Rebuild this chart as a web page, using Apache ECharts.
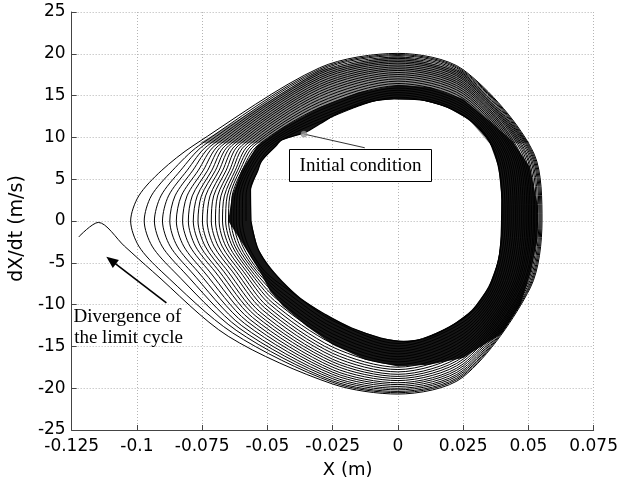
<!DOCTYPE html>
<html><head><meta charset="utf-8">
<script src="https://cdn.jsdelivr.net/npm/echarts@6.0.0/dist/echarts.min.js"></script>
<style>html,body{margin:0;padding:0;background:#fff}#c{width:621px;height:484px}</style>
</head><body><div id="c"></div>
<script>
// ---- tick labels ----
const xTickLabels = ['-0.125','-0.1','-0.075','-0.05','-0.025','0','0.025','0.05','0.075'];
const yTickLabels = ['-25','-20','-15','-10','-5','0','5','10','15','20','25'];

// ---- trajectory loops read at fixed stations (loop 0 = innermost, loop 23 = outermost) ----
// left nose, y = 0 : x
const noseX = [-0.0582,-0.0596,-0.0608,-0.0619,-0.0629,-0.0639,-0.0649,-0.0660,-0.0672,-0.0685,-0.0699,-0.0715,-0.0731,-0.0749,-0.0766,-0.0784,-0.0803,-0.0825,-0.0849,-0.0874,-0.0902,-0.0933,-0.0972,-0.1024];
// left, y = 3 : x
const up3X = [-0.0582,-0.0595,-0.0606,-0.0616,-0.0625,-0.0635,-0.0644,-0.0654,-0.0665,-0.0678,-0.0691,-0.0706,-0.0720,-0.0737,-0.0753,-0.0769,-0.0788,-0.0808,-0.0830,-0.0854,-0.0879,-0.0908,-0.0945,-0.0993];
// left, y = 6 : x
const up6X = [-0.0552,-0.0564,-0.0573,-0.0582,-0.0590,-0.0598,-0.0606,-0.0615,-0.0624,-0.0635,-0.0646,-0.0659,-0.0672,-0.0686,-0.0700,-0.0714,-0.0730,-0.0747,-0.0766,-0.0787,-0.0809,-0.0834,-0.0865,-0.0907];
// upper left, y = 9 : x
const up9X = [-0.0480,-0.0493,-0.0505,-0.0516,-0.0528,-0.0539,-0.0551,-0.0562,-0.0574,-0.0587,-0.0599,-0.0612,-0.0624,-0.0637,-0.0649,-0.0662,-0.0675,-0.0688,-0.0702,-0.0716,-0.0730,-0.0746,-0.0763,-0.0785];
// top, x = -0.03 : y
const topLY = [11.87,12.21,12.54,12.88,13.22,13.55,13.89,14.22,14.56,14.90,15.20,15.50,15.81,16.08,16.34,16.61,16.88,17.12,17.35,17.59,17.79,17.99,18.16,18.33];
// top, x = 0 : y
const topY = [14.82,15.09,15.36,15.64,15.91,16.18,16.45,16.73,17.00,17.27,17.52,17.76,18.01,18.22,18.44,18.66,18.88,19.07,19.26,19.45,19.61,19.78,19.91,20.05];
// top, x = 0.025 : y
const topRY = [12.72,13.00,13.28,13.56,13.84,14.12,14.40,14.68,14.96,15.24,15.50,15.75,16.00,16.22,16.45,16.67,16.90,17.09,17.29,17.48,17.65,17.82,17.96,18.10];
// right, y = 8 : x
const r8X = [0.0374,0.0382,0.0390,0.0397,0.0405,0.0413,0.0420,0.0428,0.0436,0.0443,0.0450,0.0457,0.0464,0.0470,0.0477,0.0483,0.0489,0.0494,0.0500,0.0505,0.0510,0.0514,0.0518,0.0522];
// right, y = 0 : x
const r0X = [0.0403,0.0411,0.0419,0.0426,0.0434,0.0442,0.0450,0.0457,0.0465,0.0473,0.0480,0.0487,0.0494,0.0500,0.0506,0.0512,0.0519,0.0524,0.0530,0.0535,0.0540,0.0544,0.0548,0.0552];
// right, y = -8 : x
const rm8X = [0.0353,0.0361,0.0369,0.0377,0.0385,0.0393,0.0401,0.0409,0.0417,0.0425,0.0433,0.0440,0.0447,0.0453,0.0460,0.0466,0.0473,0.0478,0.0484,0.0489,0.0494,0.0499,0.0503,0.0507];
// bottom, x = 0.025 : y
const botRY = [-11.74,-12.10,-12.46,-12.82,-13.18,-13.54,-13.90,-14.26,-14.62,-14.98,-15.30,-15.63,-15.95,-16.24,-16.53,-16.81,-17.10,-17.35,-17.61,-17.86,-18.07,-18.29,-18.47,-18.65];
// bottom, x = 0 : y
const botY = [-14.65,-14.97,-15.28,-15.60,-15.91,-16.23,-16.54,-16.86,-17.17,-17.49,-17.77,-18.05,-18.34,-18.59,-18.84,-19.09,-19.35,-19.57,-19.79,-20.01,-20.20,-20.39,-20.54,-20.70];
// bottom, x = -0.025 : y
const botLY = [-11.92,-12.31,-12.71,-13.10,-13.50,-13.89,-14.29,-14.68,-15.08,-15.47,-15.83,-16.18,-16.54,-16.85,-17.17,-17.49,-17.80,-18.08,-18.35,-18.63,-18.87,-19.11,-19.30,-19.50];
// lower-left diagonal crossing : x and y
const diagX = [-0.0420,-0.0429,-0.0439,-0.0447,-0.0456,-0.0465,-0.0473,-0.0482,-0.0491,-0.0501,-0.0510,-0.0519,-0.0529,-0.0538,-0.0547,-0.0557,-0.0567,-0.0577,-0.0587,-0.0598,-0.0609,-0.0620,-0.0633,-0.0650];
const diagY = [-8.23,-8.47,-8.69,-8.90,-9.11,-9.32,-9.53,-9.74,-9.96,-10.19,-10.40,-10.63,-10.86,-11.09,-11.31,-11.54,-11.78,-12.02,-12.27,-12.53,-12.79,-13.07,-13.39,-13.79];
// left, y = -6 : x (leading into the next nose)
const dn6X = [-0.0511,-0.0522,-0.0532,-0.0541,-0.0550,-0.0560,-0.0570,-0.0581,-0.0593,-0.0606,-0.0621,-0.0635,-0.0652,-0.0668,-0.0685,-0.0702,-0.0723,-0.0745,-0.0768,-0.0794,-0.0823,-0.0859,-0.0907,-0.0941];
// left, y = -3 : x
const dn3X = [-0.0573,-0.0584,-0.0595,-0.0605,-0.0615,-0.0625,-0.0635,-0.0647,-0.0660,-0.0674,-0.0689,-0.0705,-0.0723,-0.0739,-0.0757,-0.0776,-0.0797,-0.0821,-0.0846,-0.0873,-0.0904,-0.0942,-0.0993,-0.1048];
// divergent end of the trajectory
const tailX = [-0.1148,-0.1223];
const tailY = [-0.17,-1.90];

// inner hole of the limit cycle (clockwise)
const holeX = [-0.0563,-0.0565,-0.0537,-0.0522,-0.0467,-0.0445,-0.0355,-0.0300,-0.0228,-0.0101,-0.0015,0.0086,0.0183,0.0273,0.0348,0.0385,0.0398,0.0396,0.0385,0.0348,0.0284,0.0197,0.0097,0.0022,-0.0065,-0.0177,-0.0277,-0.0376,-0.0445,-0.0500,-0.0538];
const holeY = [0,3.7,6.0,7.2,9.0,9.7,10.6,11.6,12.9,14.3,14.6,14.5,13.7,12.1,9.7,6.5,2.5,-1.5,-4.7,-7.9,-10.7,-12.7,-14.1,-14.4,-14.0,-12.8,-11.2,-9.2,-7.2,-5.2,-3.2];
// outer edge of the dense (solid dark) part of the band (clockwise)
const denseX = [-0.0650,-0.0636,-0.0600,-0.0540,-0.0440,-0.0300,-0.0150,0.0000,0.0125,0.0250,0.0350,0.0440,0.0505,0.0535,0.0535,0.0510,0.0470,0.0400,0.0250,0.0120,0.0000,-0.0125,-0.0250,-0.0350,-0.0440,-0.0490,-0.0530,-0.0590];
const denseY = [0,3,6,9,11.2,13.6,15.4,16.3,16.0,14.6,12.0,9.5,6.5,2,-2,-6,-10,-13.4,-16.4,-17.2,-17.4,-16.6,-14.8,-12.6,-10.2,-8.4,-6,-3];
// grey textured upper part of the band (above y = 9.3)
const hazeX = [-0.0760,-0.0300,0.0000,0.0250,0.0505,0.0350,0.0273,0.0183,0.0086,-0.0015,-0.0101,-0.0228,-0.0300,-0.0355,-0.0445,-0.0470];
const hazeY = [9.3,18.1,19.85,17.9,9.3,9.3,12.1,13.7,14.5,14.6,14.3,12.9,11.6,10.6,9.7,9.3];

// annotations
const initPoint = [-0.036, 10.4];
const initLeaderEnd = [-0.0127, 8.76];
const arrowTail = [-0.0887, -9.8];
const arrowTip = [-0.1099, -4.7];

// ---- build the trajectory from the station readings ----
const spiral = [];
for (let k = 0; k < noseX.length; k++) {
  spiral.push(
    [noseX[k], 0], [up3X[k], 3], [up6X[k], 6], [up9X[k], 9],
    [-0.03, topLY[k]], [0, topY[k]], [0.025, topRY[k]],
    [r8X[k], 8], [r0X[k], 0], [rm8X[k], -8],
    [0.025, botRY[k]], [0, botY[k]], [-0.025, botLY[k]],
    [diagX[k], diagY[k]], [dn6X[k], -6], [dn3X[k], -3]
  );
}
for (let i = 0; i < tailX.length; i++) spiral.push([tailX[i], tailY[i]]);

const holePts = holeX.map((x, i) => [x, holeY[i]]);
const densePts = denseX.map((x, i) => [x, denseY[i]]);
const hazePts = hazeX.map((x, i) => [x, hazeY[i]]);

const chart = echarts.init(document.getElementById('c'), null, {renderer: 'canvas'});
const axisFont = 'DejaVu Sans';
chart.setOption({
  animation: false,
  backgroundColor: '#fff',
  grid: {left: 60, right: 26, top: 12, bottom: 53, containLabel: false},
  xAxis: {
    type: 'value', min: -0.125, max: 0.075, interval: 0.025,
    axisLine: {show: true, onZero: false, lineStyle: {color: '#444', width: 1}},
    axisTick: {show: true, inside: true, length: 5, lineStyle: {color: '#444'}},
    axisLabel: {color: '#000', fontFamily: axisFont, fontSize: 17, margin: 8, showMinLabel: true, showMaxLabel: true,
      formatter: v => xTickLabels[Math.round((v + 0.125) / 0.025)]},
    splitLine: {show: true, lineStyle: {color: '#b4b4b4', type: [1, 2], width: 1}},
    name: 'X (m)', nameLocation: 'middle', nameGap: 31,
    nameTextStyle: {color: '#000', fontFamily: axisFont, fontSize: 18, padding: [0, 0, 0, 30]}
  },
  yAxis: {
    type: 'value', min: -25, max: 25, interval: 5,
    axisLine: {show: true, onZero: false, lineStyle: {color: '#444', width: 1}},
    axisTick: {show: true, inside: true, length: 5, lineStyle: {color: '#444'}},
    axisLabel: {color: '#000', fontFamily: axisFont, fontSize: 17, margin: 6, showMinLabel: true, showMaxLabel: true,
      formatter: v => yTickLabels[Math.round((v + 25) / 5)]},
    splitLine: {show: true, lineStyle: {color: '#b4b4b4', type: [1, 2], width: 1}},
    name: 'dX/dt (m/s)', nameLocation: 'middle', nameGap: 40, nameRotate: 90,
    nameTextStyle: {color: '#000', fontFamily: axisFont, fontSize: 19, padding: [0, 15, 0, 0]}
  },
  series: [
    {
      type: 'custom', coordinateSystem: 'cartesian2d', z: 1, silent: true, data: [[0, 0]],
      renderItem: (params, api) => ({
        type: 'polygon', shape: {points: hazePts.map(p => api.coord(p))}, style: {fill: '#8c8c8c'}
      })
    },
    {
      type: 'custom', coordinateSystem: 'cartesian2d', z: 2, silent: true, data: [[0, 0]],
      renderItem: (params, api) => {
        const outer = densePts.map(p => api.coord(p));
        const hole = holePts.map(p => api.coord(p));
        const pts = outer.concat([outer[0], hole[0]]).concat(hole.slice(1).reverse()).concat([hole[0]]);
        return {type: 'polygon', shape: {points: pts}, style: {fill: '#161616'}};
      }
    },
    {
      type: 'line', z: 3, silent: true, data: holePts.concat([holePts[0]]), smooth: 0.4, symbol: 'none',
      lineStyle: {color: '#000', width: 1.3}
    },
    {
      type: 'line', z: 4, silent: true, data: spiral, smooth: 0.3, symbol: 'none',
      lineStyle: {color: '#000', width: 1}
    },
    {
      type: 'scatter', z: 5, silent: true, data: [initPoint], symbolSize: 6,
      itemStyle: {color: '#9a9a9a', borderColor: '#777', borderWidth: 0.5},
      markLine: {
        silent: true, animation: false, label: {show: false},
        lineStyle: {color: '#000', width: 1.2, type: 'solid'},
        emphasis: {disabled: true},
        data: [
          [{coord: initPoint, symbol: 'none'}, {coord: initLeaderEnd, symbol: 'none', lineStyle: {color: '#333', width: 1, type: 'solid'}}],
          [{coord: arrowTail, symbol: 'none'}, {coord: arrowTip, symbol: 'triangle', symbolSize: [10, 12], lineStyle: {color: '#000', width: 1.6, type: 'solid'}}]
        ]
      }
    }
  ],
  graphic: [
    {type: 'rect', z: 100, shape: {x: 289.5, y: 149.5, width: 142, height: 32}, style: {fill: '#fff', stroke: '#000', lineWidth: 1}},
    {type: 'text', z: 101, x: 360.5, y: 166, style: {text: 'Initial condition', font: '19px "Liberation Serif"', fill: '#000', align: 'center', verticalAlign: 'middle'}},
    {type: 'text', z: 101, x: 127.5, y: 317, style: {text: 'Divergence of', font: '19px "Liberation Serif"', fill: '#000', align: 'center', verticalAlign: 'middle'}},
    {type: 'text', z: 101, x: 128.5, y: 338.5, style: {text: 'the limit cycle', font: '19px "Liberation Serif"', fill: '#000', align: 'center', verticalAlign: 'middle'}}
  ]
});
</script>
</body></html>
